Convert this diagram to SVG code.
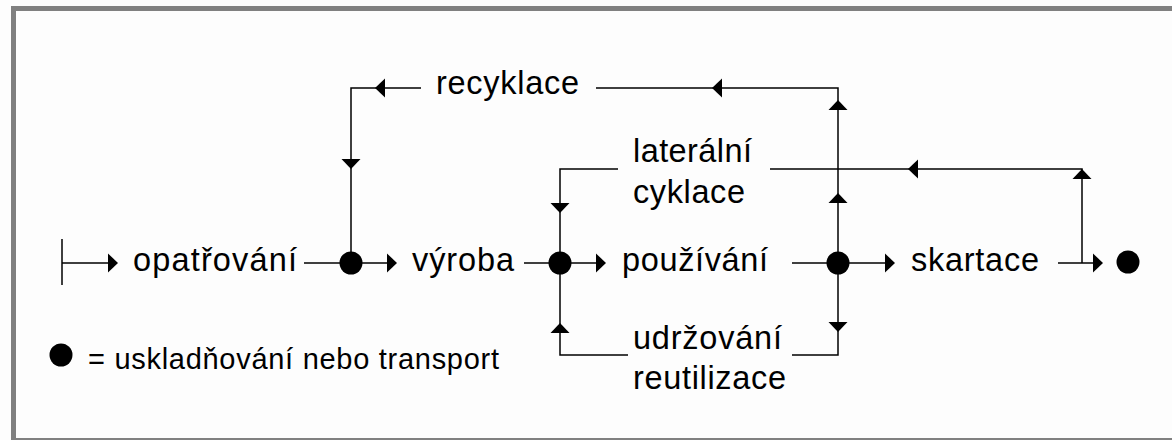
<svg xmlns="http://www.w3.org/2000/svg" xmlns:xlink="http://www.w3.org/1999/xlink" width="1172" height="440" viewBox="0 0 1172 440">
<style>
.t{font-family:"Liberation Sans",Arial,sans-serif;font-size:32.5px;fill:#000}
.s{font-size:29px}
.c{fill:none;stroke:#000;stroke-width:1.5}
.d{fill:#000}
</style>
<defs>
<path id="ah" d="M0,0 L-10,-9.5 L-10,9.5 Z" fill="#000"/>
</defs>
<rect x="0" y="0" width="1172" height="440" fill="#fdfdfd"/>
<g id="frame" fill="#808080">
<rect x="11" y="6" width="1161" height="5"/>
<rect x="11" y="6" width="5" height="434"/>
<rect x="11" y="438" width="1161" height="2"/>
</g>
<g id="connectors">
<path class="c" d="M62,239 V285 M62,263 H110"/>
<path class="c" d="M304,263 H389"/>
<path class="c" d="M524,263 H598"/>
<path class="c" d="M792,263 H887"/>
<path class="c" d="M1058,263 H1095"/>
<path class="c" d="M838,263 V88 H596 M421,88 H351 V263"/>
<path class="c" d="M1082,263 V169 H770 M618,169 H560 V355 H628"/>
<path class="c" d="M838,263 V355 H792"/>
<use xlink:href="#ah" transform="translate(118,263)"/>
<use xlink:href="#ah" transform="translate(397,263)"/>
<use xlink:href="#ah" transform="translate(606,263)"/>
<use xlink:href="#ah" transform="translate(895,263)"/>
<use xlink:href="#ah" transform="translate(1103,263)"/>
<use xlink:href="#ah" transform="translate(712,88) rotate(180)"/>
<use xlink:href="#ah" transform="translate(375,88) rotate(180)"/>
<use xlink:href="#ah" transform="translate(351,169) rotate(90)"/>
<use xlink:href="#ah" transform="translate(838,100) rotate(-90)"/>
<use xlink:href="#ah" transform="translate(838,193) rotate(-90)"/>
<use xlink:href="#ah" transform="translate(838,332) rotate(90)"/>
<use xlink:href="#ah" transform="translate(908,169) rotate(180)"/>
<use xlink:href="#ah" transform="translate(1082,169) rotate(-90)"/>
<use xlink:href="#ah" transform="translate(560,213) rotate(90)"/>
<use xlink:href="#ah" transform="translate(560,323) rotate(-90)"/>
</g>
<g id="dot1"><circle class="d" cx="351" cy="263" r="11.5"/></g>
<g id="dot2"><circle class="d" cx="560" cy="263" r="11.5"/></g>
<g id="dot3"><circle class="d" cx="838" cy="263" r="11.5"/></g>
<g id="dot-end"><circle class="d" cx="1128" cy="262" r="11.5"/></g>
<g id="opatrovani"><text class="t" x="133" y="271" textLength="164" lengthAdjust="spacing">opatřování</text></g>
<g id="vyroba"><text class="t" x="412" y="271" textLength="102" lengthAdjust="spacing">výroba</text></g>
<g id="pouzivani"><text class="t" x="622" y="271" textLength="146" lengthAdjust="spacing">používání</text></g>
<g id="skartace"><text class="t" x="911" y="271" textLength="128" lengthAdjust="spacing">skartace</text></g>
<g id="recyklace"><text class="t" x="436" y="94" textLength="143" lengthAdjust="spacing">recyklace</text></g>
<g id="lateralni"><text class="t" x="633" y="162" textLength="119" lengthAdjust="spacing">laterální</text><text class="t" x="633" y="203" textLength="112" lengthAdjust="spacing">cyklace</text></g>
<g id="udrzovani"><text class="t" x="633" y="349" textLength="149" lengthAdjust="spacing">udržování</text><text class="t" x="633" y="389" textLength="153" lengthAdjust="spacing">reutilizace</text></g>
<g id="legend"><circle class="d" cx="61" cy="355" r="11.5"/><text class="t s" x="88" y="369" textLength="411" lengthAdjust="spacing">= uskladňování nebo transport</text></g>
</svg>
